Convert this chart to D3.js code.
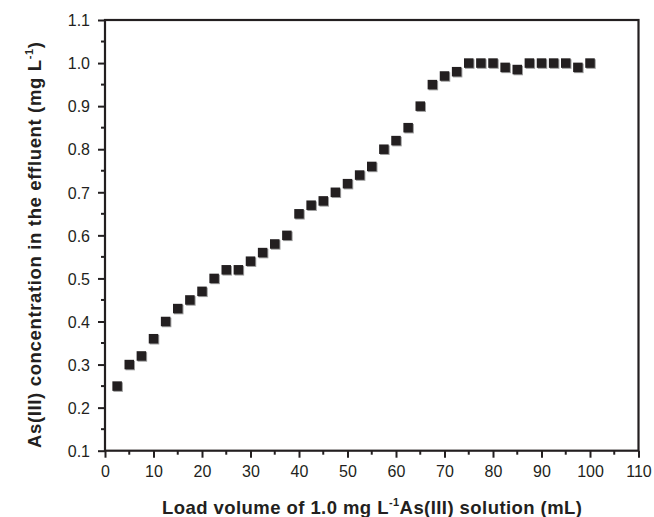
<!DOCTYPE html>
<html><head><meta charset="utf-8">
<script src="https://cdn.jsdelivr.net/npm/d3@7"></script>
<style>body{margin:0;background:#fff}svg{display:block}</style>
</head><body><svg id="c" width="654" height="517"></svg>
<script>
const volumes = [2.5,5,7.5,10,12.5,15,17.5,20,22.5,25,27.5,30,32.5,35,37.5,40,42.5,45,47.5,50,52.5,55,57.5,60,62.5,65,67.5,70,72.5,75,77.5,80,82.5,85,87.5,90,92.5,95,97.5,100];
const conc = [0.25,0.30,0.32,0.36,0.40,0.43,0.45,0.47,0.50,0.52,0.52,0.54,0.56,0.58,0.60,0.65,0.67,0.68,0.70,0.72,0.74,0.76,0.80,0.82,0.85,0.90,0.95,0.97,0.98,1.00,1.00,1.00,0.99,0.985,1.00,1.00,1.00,1.00,0.99,1.00];
const xTicks = [0,10,20,30,40,50,60,70,80,90,100,110];
const yTicks = [0.1,0.2,0.3,0.4,0.5,0.6,0.7,0.8,0.9,1.0,1.1];

const svg = d3.select("#c");
const L=105,R=638.5,T=20,B=450.7;
const x = d3.scaleLinear().domain([0,110]).range([L,R]);
const y = d3.scaleLinear().domain([0.1,1.1]).range([B,T]);
const col="#231f20";
const font="Liberation Sans, Arial, sans-serif";

// minor ticks
const xMinor = d3.range(5,110,10);
const yMinor = d3.range(0.15,1.1,0.1);
svg.append("g").selectAll("line").data(xMinor).join("line")
  .attr("x1",d=>x(d)).attr("x2",d=>x(d)).attr("y1",B).attr("y2",B+4)
  .attr("stroke",col).attr("stroke-width",2);
svg.append("g").selectAll("line").data(yMinor).join("line")
  .attr("y1",d=>y(d)).attr("y2",d=>y(d)).attr("x1",L).attr("x2",L-4)
  .attr("stroke",col).attr("stroke-width",2);

const xAxis = svg.append("g").attr("transform",`translate(0,${B})`)
  .call(d3.axisBottom(x).tickValues(xTicks).tickFormat(d3.format("d")).tickSize(7).tickSizeOuter(0));
const yAxis = svg.append("g").attr("transform",`translate(${L},0)`)
  .call(d3.axisLeft(y).tickValues(yTicks).tickFormat(d3.format(".1f")).tickSize(7).tickSizeOuter(0));
[xAxis,yAxis].forEach(g=>{
  g.selectAll("path").remove();
  g.selectAll("line").attr("stroke",col).attr("stroke-width",2);
  g.selectAll("text").attr("fill",col).style("font-family",font).style("font-size","16px");
});
xAxis.selectAll("text").attr("y",26.5).attr("dy",0);
yAxis.selectAll("text").attr("x",-15).attr("dy","0.36em");

// frame
svg.append("rect").attr("x",L).attr("y",T).attr("width",R-L).attr("height",B-T)
  .attr("fill","none").attr("stroke",col).attr("stroke-width",2.2);

// markers (with faint shadow)
const s=9.5;
svg.append("g").selectAll("rect").data(volumes).join("rect")
  .attr("x",(d)=>x(d)-s/2+1).attr("y",(d,i)=>y(conc[i])-s/2+1).attr("width",s).attr("height",s)
  .attr("fill","#9a9a9a");
svg.append("g").selectAll("rect").data(volumes).join("rect")
  .attr("x",(d)=>x(d)-s/2).attr("y",(d,i)=>y(conc[i])-s/2).attr("width",s).attr("height",s)
  .attr("fill",col);

// x label
const xl = svg.append("text").attr("x",162).attr("y",514).attr("text-anchor","start")
  .attr("textLength",420).attr("lengthAdjust","spacing")
  .style("font-family",font).style("font-size","18.5px").style("font-weight","bold").attr("fill",col);
xl.append("tspan").text("Load volume of 1.0 mg L");
xl.append("tspan").attr("dy",-8).style("font-size","11px").text("-1");
xl.append("tspan").attr("dy",8).text("As(III) solution (mL)");

// y label
const yl = svg.append("text").attr("transform",`translate(41,448) rotate(-90)`).attr("text-anchor","start")
  .attr("textLength",406).attr("lengthAdjust","spacing")
  .style("font-family",font).style("font-size","18.5px").style("font-weight","bold").attr("fill",col);
yl.append("tspan").text("As(III) concentration in the effluent  (mg L");
yl.append("tspan").attr("dy",-8).style("font-size","11px").text("-1");
yl.append("tspan").attr("dy",8).text(")");
</script></body></html>
